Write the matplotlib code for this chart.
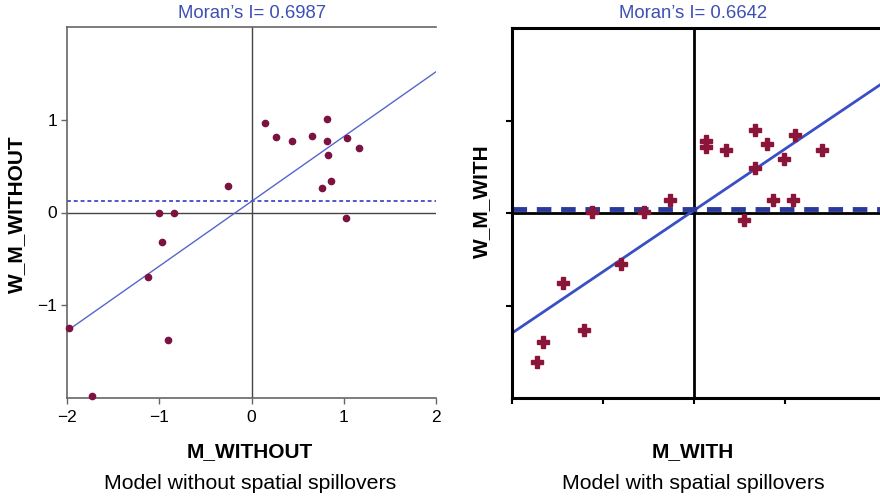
import numpy as np
import matplotlib
matplotlib.use("Agg")
import matplotlib.pyplot as plt

plt.rcParams['font.family'] = ['Liberation Sans', 'DejaVu Sans']

# Model without spatial spillovers
x_without = [0.15, 0.27, 0.44, 0.66, 0.82, 0.82, 1.03, 1.16, 0.83, 0.86, 0.76, 1.02,
             -0.26, -1.00, -0.84, -0.97, -1.12, -0.90, -1.98, -1.73]
y_without = [0.96, 0.81, 0.77, 0.82, 1.01, 0.77, 0.80, 0.70, 0.62, 0.34, 0.26, -0.06,
             0.29, 0.00, 0.00, -0.32, -0.70, -1.37, -1.25, -1.98]
slope_without = 0.6987
intercept_without = 0.12
mean_without = 0.12

# Model with spatial spillovers
x_with = [0.13, 0.13, 0.35, 0.67, 0.80, 1.11, 0.99, 0.67, 1.40, 0.86, 1.08, 0.55,
          -0.26, -1.12, -0.55, -0.80, -1.44, -1.21, -1.66, -1.73]
y_with = [0.78, 0.71, 0.68, 0.90, 0.75, 0.84, 0.58, 0.49, 0.68, 0.14, 0.14, -0.08,
          0.14, 0.01, 0.01, -0.55, -0.76, -1.27, -1.39, -1.61]
slope_with = 0.6642
intercept_with = 0.03
mean_with = 0.04

titles = ["Moran\u2019s I= 0.6987", "Moran\u2019s I= 0.6642"]
xlabels = ["M_WITHOUT", "M_WITH"]
ylabels = ["W_M_WITHOUT", "W_M_WITH"]
subtitles = ["Model without spatial spillovers", "Model with spatial spillovers"]

W, H = 880, 497
fig = plt.figure(figsize=(W / 100, H / 100), dpi=100)

def box(x0, x1, ytop, ybot):
    return [x0 / W, (H - ybot) / H, (x1 - x0) / W, (ybot - ytop) / H]

red = "#7d1240"
blue_title = "#3d4fb5"

# ---- left panel
ax1 = fig.add_axes(box(67, 436, 27, 398))
ax1.set_xlim(-2, 2)
ax1.set_ylim(-2, 2)
ax1.axhline(0, color="#444444", lw=1.0, zorder=1)
ax1.axvline(0, color="#444444", lw=1.0, zorder=1)
xs = np.array([-2, 2])
ax1.plot(xs, slope_without * xs + intercept_without, color="#5566cc", lw=1.0, zorder=2)
ax1.axhline(mean_without, color="#4a5ad0", lw=1.4, ls=(0, (2, 1.5)), zorder=2)
ax1.plot(x_without, y_without, "o", ms=4.5, color=red, zorder=3, clip_on=False)
ax1.set_xticks([-2, -1, 0, 1, 2])
ax1.set_xticklabels(["\u22122", "\u22121", "0", "1", "2"])
ax1.set_yticks([-1, 0, 1])
ax1.set_yticklabels(["\u22121", "0", "1"])
for s in ["left", "bottom", "top"]:
    ax1.spines[s].set_color("#666666")
    ax1.spines[s].set_linewidth(1.2)
ax1.spines["right"].set_visible(False)
ax1.tick_params(axis="both", colors="#666666", labelcolor="black", labelsize=12.5,
                length=4, width=1)
ax1.tick_params(axis="x", pad=5)
ax1.tick_params(axis="y", pad=3)
ax1.set_title(titles[0], color=blue_title, fontsize=13.3, pad=6.5)

# ---- right panel
ax2 = fig.add_axes(box(512, 880, 28, 398))
ax2.set_xlim(-2, 2.04)
ax2.set_ylim(-2, 2)
ax2.axhline(0, color="black", lw=2.0, zorder=1)
ax2.axvline(0, color="black", lw=2.0, zorder=1)
xs2 = np.array([-2, 2.04])
ax2.plot(xs2, slope_with * xs2 + intercept_with, color="#3b4fc4", lw=2.0, zorder=2)
ax2.axhline(mean_with, color="#2a3a9c", lw=3.5, ls=(0, (3, 2)), zorder=2)
ax2.plot(x_with, y_with, "P", ms=8, color="#8b1538", mec="#8b1538", zorder=3)
ax2.set_xticks([-2, -1, 0, 1])
ax2.set_yticks([-1, 0, 1])
ax2.set_xticklabels([])
ax2.set_yticklabels([])
for s in ["left", "bottom", "top"]:
    ax2.spines[s].set_color("black")
    ax2.spines[s].set_linewidth(2.2)
ax2.spines["right"].set_visible(False)
ax2.tick_params(axis="both", colors="black", length=4, width=1.5)
ax2.text((693 - 512) / 368, 1 + 10 / 370, titles[1], transform=ax2.transAxes,
         ha="center", va="baseline", color=blue_title, fontsize=13.3)

# ---- labels
fig.text(250 / W, (H - 457) / H, xlabels[0], ha="center", va="baseline",
         fontsize=15, fontweight="bold")
fig.text(693 / W, (H - 457) / H, xlabels[1], ha="center", va="baseline",
         fontsize=15, fontweight="bold")
fig.text(250 / W, (H - 489) / H, subtitles[0], ha="center", va="baseline", fontsize=15.3)
fig.text(693 / W, (H - 489) / H, subtitles[1], ha="center", va="baseline", fontsize=15.3)
fig.text(17 / W, (H - 214) / H, ylabels[0], ha="center", va="center", rotation=90,
         fontsize=15, fontweight="bold")
fig.text(482 / W, (H - 201) / H, ylabels[1], ha="center", va="center", rotation=90,
         fontsize=15, fontweight="bold")

fig.savefig("out.png", dpi=100)
